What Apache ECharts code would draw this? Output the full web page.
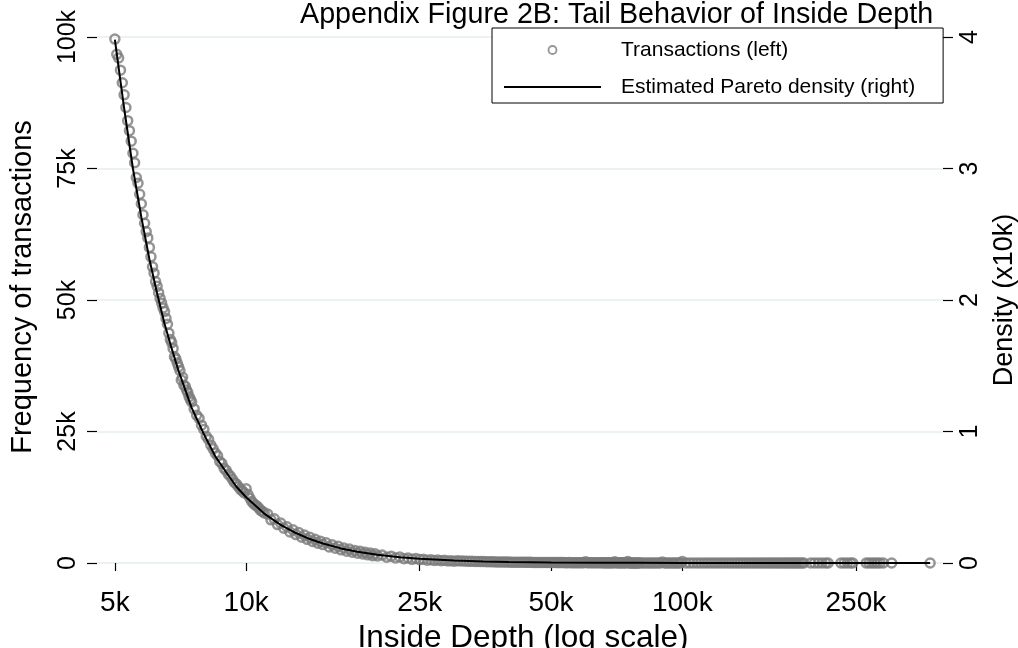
<!DOCTYPE html>
<html>
<head>
<meta charset="utf-8">
<title>Appendix Figure 2B: Tail Behavior of Inside Depth</title>
<script src="https://cdn.jsdelivr.net/npm/echarts@6/dist/echarts.min.js"></script>
<style>
  html, body { margin: 0; padding: 0; background: #fff; }
  #main { width: 1018px; height: 648px; }
</style>
</head>
<body>
<div id="main"></div>
<script>
// x tick positions (log scale) and their labels
const xTicks = [5000, 10000, 25000, 50000, 100000, 250000];
const xTickLabels = ['5k', '10k', '25k', '50k', '100k', '250k'];
const yLeftTicks = [0, 25000, 50000, 75000, 100000];
const yLeftLabels = ['0', '25k', '50k', '75k', '100k'];

// transactions per inside-depth bin
const headDepth = [5000,5050,5100,5150,5200,5250,5300,5350,5400,5450,5500,5550,5600,5650,5700,5750,5800,5850,5900,5950,
  6000,6050,6100,6150,6200,6250,6300,6350,6400,6450,6500,6550,6600,6650,6700,6750,6800,6850,6900,6950,
  7000,7050,7100,7150,7200,7250,7300,7350,7400,7450,7500];
const headFreq = [99600,96700,96000,93700,91300,89000,86600,84100,82200,80200,77900,76100,73300,72200,70100,68300,66200,64600,63000,61800,
  60000,58200,56300,55100,53500,52600,51400,50300,49400,48500,47800,46500,45400,43700,42500,41900,40800,39200,38800,38000,
  37300,36600,34800,35300,33800,33600,32900,32400,31600,31100,30600];

const midDepth = [7600,7700,7800,7900,8000,8100,8200,8300,8400,8500,8600,8700,8800,8900,9000,9100,9200,9300,9400,9500,
  9600,9700,9800,9900,10000,10100,10200,10300,10400,10500,10600,10700,10800,10900,11000,
  11200,11400,11600,11800,12000,12200,12400,12600,12800,13000,13200,13400,13600,13800,14000,14200,14400,14600,14800,15000];
const midFreq = [29300,28100,27500,26200,25400,24100,23500,22400,21700,20900,20400,19300,18900,18000,17600,16900,16500,15900,15300,15000,
  14500,14000,13700,13300,14100,13000,12300,11700,11300,11000,10800,10400,10000,9800,9500,
  9300,8200,8400,7300,7600,6600,6900,5900,6300,5400,5800,4900,5300,4500,4900,4100,4500,3750,4150,3500];

const lowDepth = [15250,15500,15750,16000,16250,16500,16750,17000,17250,17500,17750,18000,18250,18500,18750,19000,19250,19500,19750,20000,
  20500,21000,21500,22000,22500,23000,23500,24000,24500,25000,25500,26000,26500,27000,27500,28000,28500,29000,29500,30000,
  30500,31000,31500,32000,32500,33000,33500,34000,34500,35000,35500,36000,36500,37000,37500,38000,38500,39000,39500,40000,
  40500,41000,41500,42000,42500,43000,43500,44000,44500,45000,45500,46000,46500,47000,47500,48000,48500,49000,49500,50000];
const lowFreq = [3850,3050,3450,2800,3200,2500,2850,2250,2650,2050,2400,1850,2250,1700,2050,1550,1900,1400,1750,1350,
  1500,1100,1300,950,1150,820,950,700,850,650,720,540,640,470,560,420,500,380,450,330,
  420,390,380,340,330,310,300,280,270,280,250,240,230,220,210,200,195,185,175,190,
  165,160,155,150,145,140,135,130,125,140,118,115,110,105,102,100,97,95,90,110];

const tailDepth = [50500,51000,51500,52000,52500,53000,53500,54000,54500,55000,55500,56000,56500,57000,57500,58000,58500,59000,59500,60000,
  60500,61000,61500,62000,62500,63000,63500,64000,64500,65000,65500,66000,66500,67000,67500,68000,68500,69000,69500,70000,
  70500,71000,71500,72000,72500,73000,73500,74000,74500,75000,75500,76000,76500,77000,77500,78000,78500,79000,79500,80000,
  81000,82000,83000,84000,85000,86000,87000,88000,89000,90000,91000,92000,93000,94000,95000,96000,97000,98000,99000,100000,
  102000,104000,106000,108000,110000,112000,114000,116000,118000,120000,122000,124000,126000,128000,130000,132000,134000,136000,138000,140000,
  142000,144000,146000,148000,150000,152000,154000,156000,158000,160000,162000,164000,166000,168000,170000,172000,174000,176000,178000,180000,
  182000,184000,186000,188000,190000];
const tailFreq = [90,85,83,80,78,75,72,70,68,72,64,62,61,60,57,55,53,52,50,260,
  48,47,46,45,44,43,41,40,38,45,37,36,35,35,34,33,32,31,30,220,
  29,28,28,27,27,26,25,25,24,300,23,23,22,22,21,21,20,20,20,24,
  23,22,21,20,22,19,18,18,17,200,16,16,15,15,17,14,14,13,13,280,
  12,12,11,11,10,10,10,9,9,9,8,8,8,8,7,7,7,7,6,6,
  6,6,6,5,5,5,5,5,5,4,4,4,4,4,4,4,3,3,3,3,
  3,3,3,3,3];

const sparseDepth = [197000,201000,205000,209000,213000,216000,231000,235000,239000,243000,246000,
  264000,268000,272000,276000,280000,284000,289000,302000,370000];
const sparseFreq = [3,2,2,2,1,2,2,1,2,1,2,1,1,2,1,1,1,1,1,1];

// estimated Pareto density (x10k), right axis
const paretoDepth = [5000,5250,5500,5750,6000,6250,6500,6750,7000,7500,8000,8500,9000,9500,10000,11000,12000,13000,14000,15000,
  16500,18000,20000,22500,25000,30000,35000,40000,50000,65000,80000,100000,150000,250000,370000];
const paretoDensity = [3.98,3.46,3.0,2.63,2.31,2.05,1.82,1.63,1.46,1.18,0.98,0.81,0.69,0.58,0.50,0.376,0.29,0.228,0.182,0.148,
  0.111,0.086,0.0625,0.044,0.032,0.0185,0.0117,0.0078,0.004,0.0018,0.001,0.0005,0.00015,0.00003,0.00001];

const font = "'Liberation Sans', Arial, Helvetica, sans-serif";

const pairs = (xs, ys) => xs.map((x, i) => [x, ys[i]]);
const scatterData = [].concat(
  pairs(headDepth, headFreq),
  pairs(midDepth, midFreq),
  pairs(lowDepth, lowFreq),
  pairs(tailDepth, tailFreq),
  pairs(sparseDepth, sparseFreq)
);
const lineData = pairs(paretoDepth, paretoDensity);

const chart = echarts.init(document.getElementById('main'));
const option = {
  animation: false,
  backgroundColor: '#fff',
  textStyle: { fontFamily: font, color: '#000' },
  title: {
    text: 'Appendix Figure 2B: Tail Behavior of Inside Depth',
    left: 300,
    top: 1,
    padding: 0,
    textStyle: { fontSize: 28.7, fontWeight: 'normal', color: '#000', fontFamily: font }
  },
  legend: {
    left: 492,
    top: 28,
    orient: 'vertical',
    padding: [10, 28, 4, 11],
    itemGap: 13,
    itemWidth: 97,
    itemHeight: 8,
    borderColor: '#000',
    borderWidth: 1,
    borderRadius: 0,
    backgroundColor: '#fff',
    selectedMode: false,
    textStyle: { fontSize: 21, color: '#000', fontFamily: font, padding: [0, 0, 0, 15], lineHeight: 24 },
    data: [
      { name: 'Transactions (left)', itemStyle: { color: 'rgba(0,0,0,0)', borderColor: '#7a7a7a', borderWidth: 1.8 } },
      { name: 'Estimated Pareto density (right)', itemStyle: { color: 'rgba(0,0,0,0)', borderWidth: 0, opacity: 0 } }
    ]
  },
  grid: { left: 97, right: 75, top: 37, bottom: 85, outerBoundsMode: 'none' },
  xAxis: {
    type: 'log',
    logBase: 10,
    min: 4550,
    max: 396000,
    offset: 17,
    axisLine: { show: false },
    axisTick: { show: true, length: 8, customValues: xTicks, lineStyle: { color: '#000', width: 1.2 } },
    minorTick: { show: false },
    splitLine: { show: false },
    axisLabel: {
      customValues: xTicks,
      margin: 9,
      fontSize: 28,
      color: '#000',
      fontFamily: font,
      formatter: v => xTickLabels[xTicks.indexOf(Math.round(v))] || ''
    },
    name: 'Inside Depth (log scale)',
    nameLocation: 'middle',
    nameGap: 38,
    nameTextStyle: { fontSize: 31.5, color: '#000', fontFamily: font, padding: [0, 0, 0, 6] }
  },
  yAxis: [
    {
      type: 'value',
      position: 'left',
      min: 0,
      max: 100000,
      interval: 25000,
      axisLine: { show: false },
      axisTick: { show: true, length: 10, lineStyle: { color: '#000', width: 1.2 } },
      splitLine: { show: true, lineStyle: { color: '#e6eef1', width: 1.5 } },
      axisLabel: {
        rotate: 90,
        margin: 16,
        fontSize: 25,
        color: '#000',
        fontFamily: font,
        formatter: v => yLeftLabels[yLeftTicks.indexOf(v)]
      },
      name: 'Frequency of transactions',
      nameLocation: 'middle',
      nameGap: 60,
      nameTextStyle: { fontSize: 29, color: '#000', fontFamily: font, padding: [0, 0, 0, 26] }
    },
    {
      type: 'value',
      position: 'right',
      min: 0,
      max: 4,
      interval: 1,
      axisLine: { show: false },
      axisTick: { show: true, length: 10, lineStyle: { color: '#000', width: 1.2 } },
      splitLine: { show: false },
      axisLabel: { rotate: 90, margin: 15, fontSize: 25, color: '#000', fontFamily: font },
      name: 'Density (x10k)',
      nameLocation: 'middle',
      nameGap: 46,
      nameTextStyle: { fontSize: 27, color: '#000', fontFamily: font }
    }
  ],
  series: [
    {
      name: 'Transactions (left)',
      type: 'scatter',
      yAxisIndex: 0,
      symbol: 'circle',
      symbolSize: 9,
      clip: false,
      itemStyle: { color: 'rgba(0,0,0,0)', borderColor: '#7a7a7a', borderWidth: 2.5 },
      emphasis: { disabled: true },
      z: 2,
      data: scatterData
    },
    {
      name: 'Estimated Pareto density (right)',
      type: 'line',
      yAxisIndex: 1,
      symbol: 'none',
      showSymbol: false,
      clip: false,
      lineStyle: { color: '#000', width: 2 },
      itemStyle: { color: '#000' },
      emphasis: { disabled: true },
      z: 3,
      data: lineData
    }
  ]
};
chart.setOption(option);
</script>
</body>
</html>
